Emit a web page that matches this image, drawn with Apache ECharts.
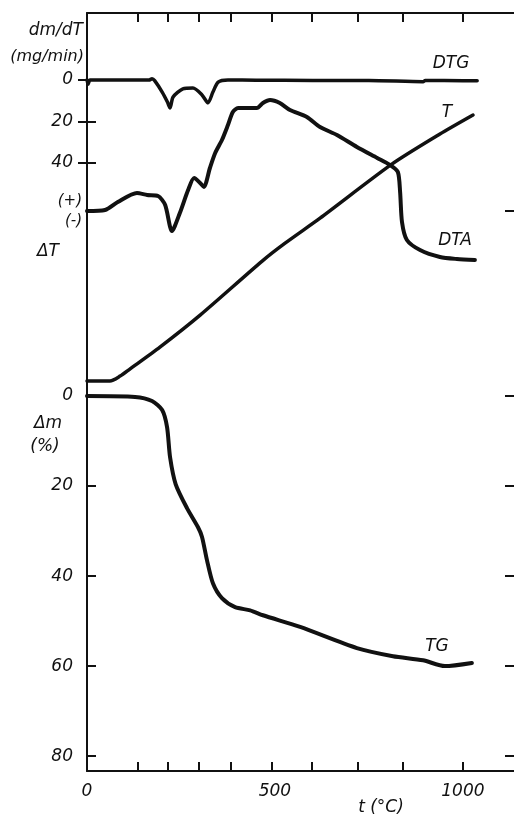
<!DOCTYPE html>
<html>
<head>
<meta charset="utf-8">
<script src="https://cdn.jsdelivr.net/npm/echarts@6/dist/echarts.min.js"></script>
<style>
  html, body { margin: 0; padding: 0; background: #fff; }
  #chart { width: 514px; height: 818px; }
</style>
</head>
<body>
<div id="chart"></div>
<script>
// Derivatogram: DTG, DTA, T and TG recorded against furnace temperature t (°C)

// x-axis marks (°C) and labelled values
const xTickValues = [135, 215, 297, 382, 492, 599, 720, 841, 1000];
const xLabelValues = [0, 500, 1000];

// DTG, dm/dT (mg/min); dips plotted downward
const dtgTemp = [0, 3, 8, 100, 165, 173, 180, 200, 214, 221, 229, 255, 282, 306, 322, 335, 349, 375, 450, 600, 750, 894, 900, 1000, 1038];
const dtgValues = [0, 2, 0, 0, 0, -0.6, 0.3, 5.8, 10.6, 13.5, 8.2, 4.3, 3.9, 7.2, 11, 5.8, 1, 0, 0.1, 0.2, 0.2, 0.8, 0.2, 0.3, 0.3];
const dtgTicks = [0, 20, 40];

// DTA, ΔT (arbitrary units, (+) exothermic)
const dtaTemp = [0, 48, 82, 133, 160, 189, 208, 226, 247, 269, 285, 301, 311, 327, 341, 359, 375, 388, 402, 428, 452, 468, 487, 513, 540, 585, 620, 665, 718, 772, 806, 827, 833, 838, 851, 886, 939, 984, 1032];
const dtaValues = [0, 0.25, 2.25, 4.5, 4, 3.75, 1.5, -5, -0.5, 5.25, 8.25, 7, 6, 10.75, 14.5, 17.75, 21.5, 24.75, 25.75, 25.75, 25.75, 27, 27.75, 27, 25.25, 23.5, 21, 19, 16, 13.25, 11.5, 9.75, 4.75, -2.75, -7.25, -9.75, -11.5, -12, -12.25];

// T, sample temperature (°C)
const tTemp = [0, 61, 88, 114, 194, 301, 466, 527, 620, 811, 939, 1027];
const tValues = [20, 20, 38, 64, 145, 263, 462, 528, 620, 819, 930, 1000];

// TG, mass loss Δm (%)
const tgTemp = [0, 128, 173, 200, 213, 221, 236, 266, 295, 306, 319, 335, 359, 394, 434, 468, 567, 718, 814, 894, 952, 1024];
const tgValues = [0, 0.2, 1.1, 3.1, 6.9, 13.6, 19.6, 24.9, 29.1, 31.3, 36.4, 41.6, 44.9, 46.9, 47.6, 48.7, 51.3, 56, 57.8, 58.7, 60, 59.3];
const tgTicks = [0, 20, 40, 60, 80];

const pairs = (xs, ys) => xs.map((x, i) => [x, ys[i]]);

const INK = '#111';
const FONT = '"DejaVu Sans", sans-serif';
const labelStyle = { color: INK, fontFamily: FONT, fontStyle: 'italic', fontSize: 17 };

function sideAxis(opts) {
  return Object.assign({
    type: 'value',
    gridIndex: 0,
    axisLine: { show: false },
    splitLine: { show: false },
    axisTick: { show: false },
    axisLabel: { show: false }
  }, opts);
}

const chart = echarts.init(document.getElementById('chart'), null, { renderer: 'canvas' });

const lineSeries = (name, data, yIdx, width) => ({
  name, type: 'line', data, xAxisIndex: 0, yAxisIndex: yIdx,
  showSymbol: false, symbol: 'none', smooth: 0.25,
  lineStyle: { color: INK, width: width, cap: 'round', join: 'round' },
  z: 3, silent: true, animation: false
});

const tick = (values, length) => ({
  show: true, inside: true, length: length, customValues: values,
  lineStyle: { color: INK, width: 2 }
});

chart.setOption({
  backgroundColor: '#fff',
  animation: false,
  grid: { left: 87, right: 0, top: 13, bottom: 47 },
  xAxis: [
    {
      type: 'value', position: 'bottom', min: 0, max: 1136,
      axisLine: { show: true, onZero: false, lineStyle: { color: INK, width: 2 } },
      axisTick: tick(xTickValues, 9),
      axisLabel: Object.assign({ customValues: xLabelValues, margin: 12, formatter: v => String(v) }, labelStyle),
      splitLine: { show: false }
    },
    {
      type: 'value', position: 'top', min: 0, max: 1136,
      axisLine: { show: true, onZero: false, lineStyle: { color: INK, width: 2 } },
      axisTick: tick(xTickValues, 9),
      axisLabel: { show: false },
      splitLine: { show: false }
    }
  ],
  yAxis: [
    // 0: DTG, left (carries the frame's left edge)
    sideAxis({
      position: 'left', inverse: true, min: -32.3, max: 333,
      axisLine: { show: true, onZero: false, lineStyle: { color: INK, width: 2 } },
      axisTick: tick(dtgTicks, 9),
      axisLabel: Object.assign({ show: true, customValues: dtgTicks, margin: 14 }, labelStyle)
    }),
    // 1: DTG, right-hand marks
    sideAxis({ position: 'right', inverse: true, min: -32.3, max: 333, axisTick: tick(dtgTicks, 9) }),
    // 2: DTA, left
    sideAxis({
      position: 'left', min: -140, max: 49.5,
      axisTick: tick([0], 12),
      axisLabel: {
        show: true, customValues: [0], margin: 5,
        formatter: () => '(+)\n(-)',
        color: INK, fontFamily: FONT, fontStyle: 'italic', fontSize: 15, lineHeight: 20
      }
    }),
    // 3: DTA, right-hand mark
    sideAxis({ position: 'right', min: -140, max: 49.5, axisTick: tick([0], 9) }),
    // 4: TG, left
    sideAxis({
      position: 'left', inverse: true, min: -85.1, max: 83.3,
      axisTick: tick(tgTicks, 9),
      axisLabel: Object.assign({ show: true, customValues: tgTicks, margin: 14 }, labelStyle)
    }),
    // 5: TG, right-hand marks
    sideAxis({ position: 'right', inverse: true, min: -85.1, max: 83.3, axisTick: tick(tgTicks, 9) }),
    // 6: T, unscaled
    sideAxis({ position: 'right', min: -1417, max: 1376, show: false })
  ],
  series: [
    lineSeries('DTG', pairs(dtgTemp, dtgValues), 0, 3.5),
    lineSeries('DTA', pairs(dtaTemp, dtaValues), 2, 4),
    lineSeries('T', pairs(tTemp, tValues), 6, 3.5),
    lineSeries('TG', pairs(tgTemp, tgValues), 4, 4)
  ],
  graphic: [
    ['dm/dT', 83, 31, 'right', 17],
    ['(mg/min)', 84, 57, 'right', 16],
    ['ΔT', 48, 252, 'center', 17],
    ['Δm', 48, 424, 'center', 17],
    ['(%)', 45, 447, 'center', 17],
    ['t (°C)', 381, 808, 'center', 17],
    ['DTG', 451, 64, 'center', 17],
    ['T', 447, 113, 'center', 17],
    ['DTA', 455, 241, 'center', 17],
    ['TG', 437, 647, 'center', 17]
  ].map(([text, x, y, align, size]) => ({
    type: 'text', x, y, silent: true,
    style: {
      text, font: 'italic ' + size + 'px ' + FONT, fill: INK,
      align, verticalAlign: 'middle', textAlign: align, textVerticalAlign: 'middle'
    }
  }))
});
</script>
</body>
</html>
